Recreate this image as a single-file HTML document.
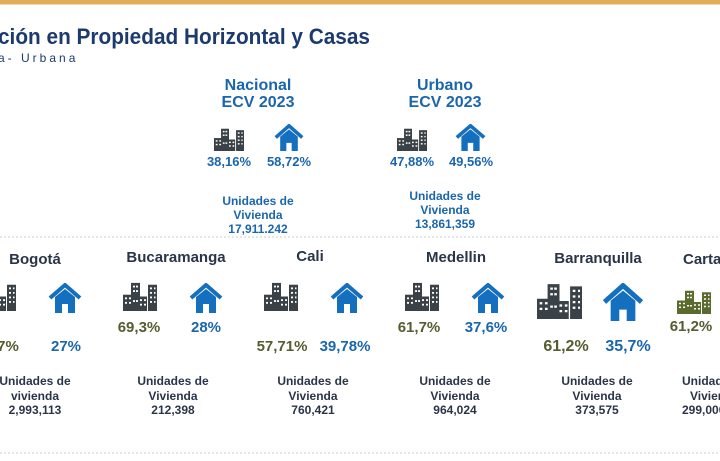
<!DOCTYPE html>
<html><head><meta charset="utf-8"><style>
html,body{margin:0;padding:0;background:#fff;}
svg{display:block;font-family:"Liberation Sans",sans-serif;font-weight:bold;}
</style></head><body>
<svg width="720" height="461" viewBox="0 0 720 461" xmlns="http://www.w3.org/2000/svg">
<defs>
<symbol id="bld" viewBox="0 0 34 32" preserveAspectRatio="none">
<rect x="0" y="14" width="10" height="18"/>
<rect x="8" y="1" width="9" height="31"/>
<rect x="15" y="16" width="9" height="16"/>
<rect x="25" y="3" width="9" height="29"/>
<g fill="#fff">
<rect x="2" y="17" width="2" height="2"/><rect x="6" y="17" width="2" height="2"/>
<rect x="2" y="22" width="2" height="2"/><rect x="6" y="22" width="2" height="2"/>
<rect x="10" y="4" width="2" height="2"/><rect x="13" y="4" width="2" height="2"/>
<rect x="10" y="9" width="2" height="2"/><rect x="13" y="9" width="2" height="2"/>
<rect x="10" y="20" width="2" height="2"/><rect x="13" y="20" width="2" height="2"/>
<rect x="17" y="19" width="2" height="2"/><rect x="21" y="19" width="2" height="2"/>
<rect x="17" y="24" width="2" height="2"/><rect x="21" y="24" width="2" height="2"/>
<rect x="27" y="6" width="2" height="2"/><rect x="31" y="6" width="1.5" height="2"/>
<rect x="27" y="11" width="2" height="2"/><rect x="31" y="11" width="1.5" height="2"/>
<rect x="27" y="16" width="2" height="2"/><rect x="31" y="16" width="1.5" height="2"/>
<rect x="27" y="21" width="2" height="2"/><rect x="31" y="21" width="1.5" height="2"/>
</g>
</symbol>
<symbol id="hse" viewBox="0 0 34 30" preserveAspectRatio="none">
<polyline points="2,15 17,2 32,15" fill="none" stroke="#1470bf" stroke-width="4"/>
<path d="M7 14 L17 6 L27 14 V30 H20 V21 H14 V30 H7 Z" fill="#1470bf"/>
</symbol>
</defs>
<rect x="0" y="0" width="720" height="4" fill="#e2ad58"/>
<rect x="0" y="4" width="720" height="1" fill="#f3dba7"/>
<text x="-2" y="44" font-size="22" fill="#1d3a6f" textLength="372" lengthAdjust="spacingAndGlyphs">ción en Propiedad Horizontal y Casas</text>
<text x="-2" y="62" font-size="12" fill="#1d3a6f" letter-spacing="3" font-weight="normal">a- Urbana</text>

<g fill="#1a66ad" text-anchor="middle">
<text x="258" y="90" font-size="16">Nacional</text>
<text x="258" y="107" font-size="16">ECV 2023</text>
<text x="229" y="166" font-size="13">38,16%</text>
<text x="289" y="166" font-size="13">58,72%</text>
<text x="258" y="205" font-size="12">Unidades de</text>
<text x="258" y="219" font-size="12">Vivienda</text>
<text x="258" y="233" font-size="12">17,911.242</text>
<text x="445" y="90" font-size="16">Urbano</text>
<text x="445" y="107" font-size="16">ECV 2023</text>
<text x="412" y="166" font-size="13">47,88%</text>
<text x="471" y="166" font-size="13">49,56%</text>
<text x="445" y="200" font-size="12">Unidades de</text>
<text x="445" y="214" font-size="12">Vivienda</text>
<text x="445" y="228" font-size="12">13,861,359</text>
</g>
<g fill="#3b4247">
<use href="#bld" x="214" y="128" width="30" height="23"/>
<use href="#bld" x="397" y="128" width="30" height="23"/>
</g>
<use href="#hse" x="274" y="124" width="30" height="27"/>
<use href="#hse" x="455" y="124" width="31" height="27"/>

<line x1="0" y1="237" x2="720" y2="237" stroke="#c8ccd2" stroke-dasharray="2,2"/>
<line x1="0" y1="453" x2="720" y2="453" stroke="#c8ccd2" stroke-dasharray="2,2"/>

<g fill="#2a3548" text-anchor="middle" font-size="15">
<text x="35" y="264">Bogotá</text>
<text x="176" y="262">Bucaramanga</text>
<text x="310" y="261">Cali</text>
<text x="456" y="262">Medellin</text>
<text x="598" y="263">Barranquilla</text>
<text x="683" y="264" text-anchor="start">Carta</text>
</g>
<g fill="#3b4247">
<use href="#bld" x="-18" y="282" width="34" height="29"/>
<use href="#bld" x="123" y="282" width="34" height="29"/>
<use href="#bld" x="264" y="282" width="34" height="29"/>
<use href="#bld" x="405" y="282" width="34" height="29"/>
<use href="#bld" x="537" y="283" width="45" height="36"/>
</g>
<use href="#bld" x="677" y="290" width="34" height="24" fill="#5b6b2d"/>
<use href="#hse" x="48" y="283" width="34" height="30"/>
<use href="#hse" x="189" y="283" width="34" height="30"/>
<use href="#hse" x="330" y="283" width="34" height="30"/>
<use href="#hse" x="471" y="283" width="34" height="30"/>
<use href="#hse" x="602" y="283" width="42" height="38"/>

<g text-anchor="middle" font-size="15">
<text x="8" y="351" fill="#535d2f">7%</text>
<text x="66" y="351" fill="#1a66ad">27%</text>
<text x="139" y="332" fill="#535d2f">69,3%</text>
<text x="206" y="332" fill="#1a66ad">28%</text>
<text x="282" y="351" fill="#535d2f">57,71%</text>
<text x="345" y="351" fill="#1a66ad">39,78%</text>
<text x="419" y="332" fill="#535d2f">61,7%</text>
<text x="486" y="332" fill="#1a66ad">37,6%</text>
<text x="566" y="351" font-size="16" fill="#535d2f">61,2%</text>
<text x="628" y="351" font-size="16" fill="#1a66ad">35,7%</text>
<text x="691" y="331" fill="#535d2f">61,2%</text>
</g>
<g fill="#2a3548" text-anchor="middle" font-size="12">
<text x="35" y="385">Unidades de</text><text x="35" y="400">vivienda</text><text x="35" y="414">2,993,113</text>
<text x="173" y="385">Unidades de</text><text x="173" y="400">Vivienda</text><text x="173" y="414">212,398</text>
<text x="313" y="385">Unidades de</text><text x="313" y="400">Vivienda</text><text x="313" y="414">760,421</text>
<text x="455" y="385">Unidades de</text><text x="455" y="400">Vivienda</text><text x="455" y="414">964,024</text>
<text x="597" y="385">Unidades de</text><text x="597" y="400">Vivienda</text><text x="597" y="414">373,575</text>
<text x="682" y="385" text-anchor="start">Unidades de</text><text x="690" y="400" text-anchor="start">Vivienda</text><text x="682" y="414" text-anchor="start">299,000</text>
</g>
</svg>
</body></html>
